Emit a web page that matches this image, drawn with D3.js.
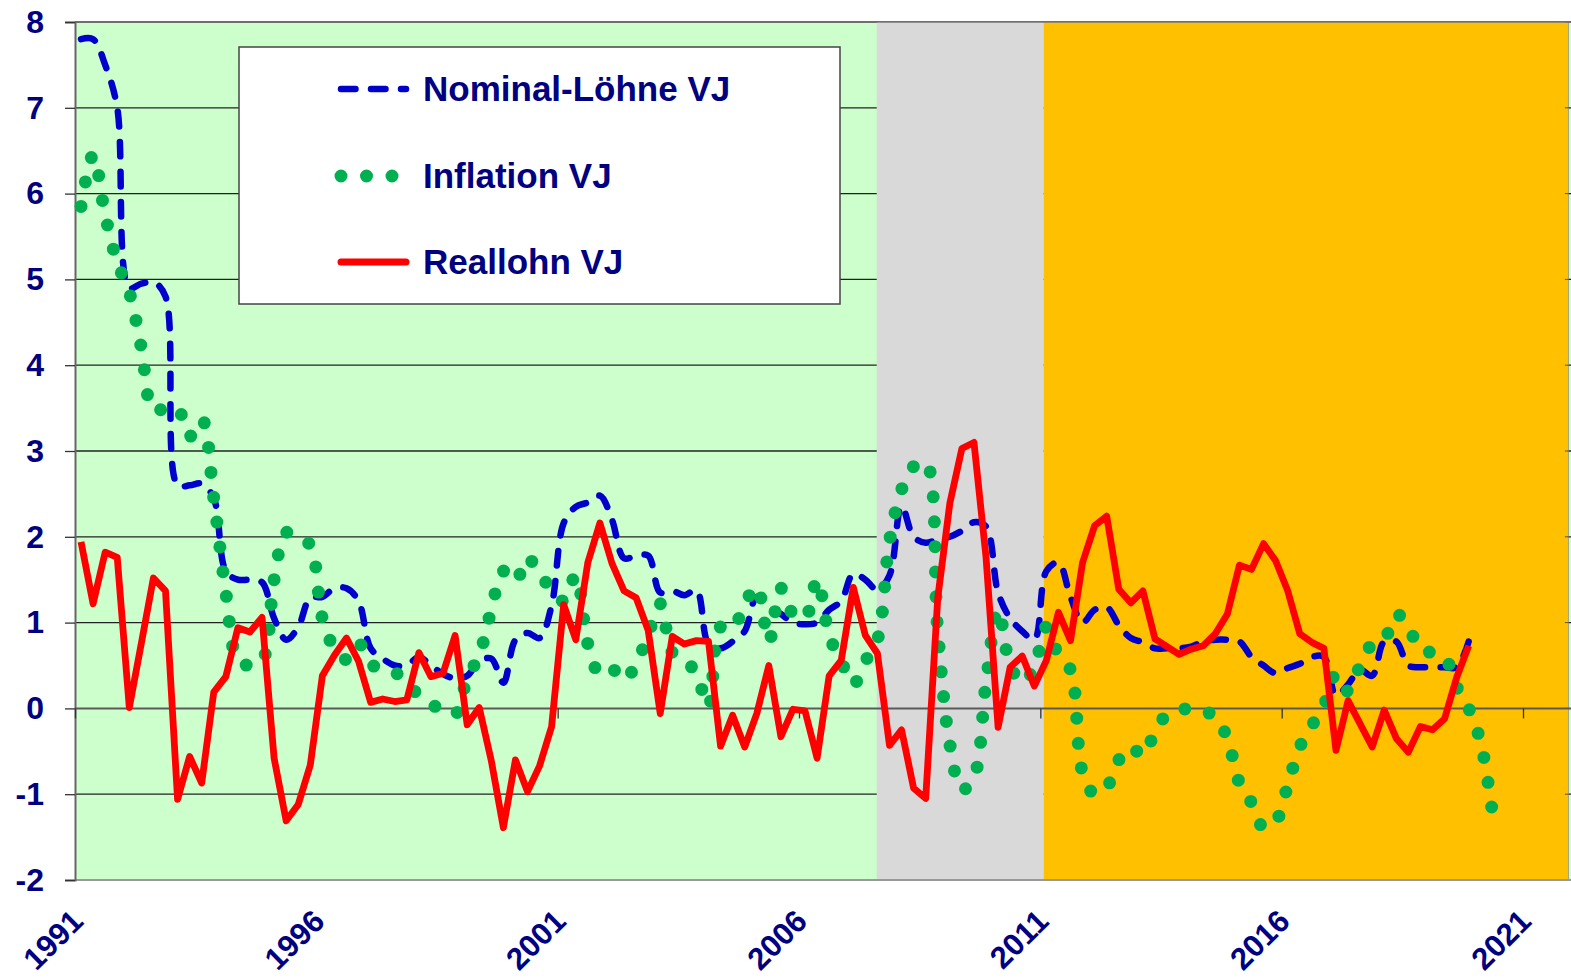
<!DOCTYPE html>
<html>
<head>
<meta charset="utf-8">
<script src="https://cdn.jsdelivr.net/npm/d3@7"></script>
<style>
  body { margin: 0; background: #fff; }
  text { font-family: "Liberation Sans", Arial, sans-serif; font-weight: bold; }
</style>
</head>
<body>
<div id="chart"></div>
<script>
// quarterly data, first quarter = 1991 Q1
var startYear = 1991;
var nominal = [7.8, 7.8, 7.5, 7.0, 4.9, 4.95, 4.97, 4.8, 2.6, 2.6,
  2.62, 2.45, 1.6, 1.5, 1.5, 1.47, 1.05, 0.8, 0.95, 1.29,
  1.3, 1.4, 1.4, 1.25, 0.7, 0.58, 0.5, 0.5, 0.6, 0.5,
  0.4, 0.35, 0.38, 0.55, 0.58, 0.3, 0.8, 0.88, 0.82, 1.2,
  2.16, 2.35, 2.4, 2.48, 2.2, 1.75, 1.78, 1.78, 1.35, 1.37,
  1.32, 1.38, 0.75, 0.7, 0.78, 0.9, 1.3, 1.18, 1.1, 1.0,
  0.98, 1.0, 1.15, 1.25, 1.57, 1.5, 1.38, 1.55, 2.36, 2.0,
  1.93, 1.97, 2.0, 2.07, 2.17, 2.12, 1.35, 1.05, 0.9, 0.8,
  1.6, 1.7, 1.3, 1.0, 1.15, 1.18, 0.97, 0.82, 0.77, 0.7,
  0.7, 0.7, 0.72, 0.78, 0.8, 0.8, 0.78, 0.6, 0.5, 0.41,
  0.47, 0.52, 0.6, 0.6, 0.15, 0.28, 0.45, 0.38, 0.78, 0.78,
  0.5, 0.48, 0.48, 0.48, 0.48, 0.78];
var inflation = [5.85, 6.45, 5.75, 5.2, 4.85, 4.2, 3.47, 3.5, 3.5, 3.17,
  3.37, 2.45, 1.35, 0.56, 0.5, 0.55, 1.5, 2.05, 2.0, 1.9,
  1.05, 0.7, 0.57, 0.76, 0.52, 0.45, 0.42, 0.3, 0.15, 0.05,
  -0.02, -0.07, 0.35, 0.62, 1.15, 1.6, 1.48, 1.76, 1.55, 1.4,
  1.25, 1.55, 0.75, 0.4, 0.46, 0.33, 0.52, 0.86, 1.22, 0.65,
  0.57, 0.4, 0.02, 0.95, 0.93, 1.22, 1.42, 0.78, 1.4, 1.1,
  1.05, 1.5, 0.85, 0.55, 0.28, 0.55, 0.8, 1.95, 2.55, 2.82,
  2.87, 0.9, -0.42, -0.95, -0.8, 0.3, 1.15, 0.5, 0.3, 0.48,
  0.95, 0.62, 0.45, -0.75, -1.0, -0.92, -0.6, -0.45, -0.55, -0.27,
  -0.07, -0.02, 0.0, -0.03, -0.1, -0.35, -0.87, -1.1, -1.39, -1.32,
  -0.9, -0.45, -0.2, 0.03, 0.4, 0.2, 0.5, 0.75, 0.8, 1.1,
  0.95, 0.68, 0.65, 0.6, 0.25, 0.0, -0.4, -1.25];
var reallohn = [1.94, 1.22, 1.82, 1.76, 0.01, 0.76, 1.52, 1.37, -1.06, -0.56,
  -0.87, 0.19, 0.37, 0.94, 0.89, 1.06, -0.58, -1.31, -1.12, -0.66,
  0.38, 0.62, 0.82, 0.55, 0.07, 0.11, 0.08, 0.10, 0.65, 0.37,
  0.41, 0.85, -0.19, 0.01, -0.61, -1.39, -0.6, -0.97, -0.67, -0.21,
  1.21, 0.8, 1.70, 2.16, 1.69, 1.37, 1.29, 0.91, -0.06, 0.84,
  0.75, 0.79, 0.78, -0.44, -0.08, -0.45, -0.06, 0.5, -0.33, -0.01,
  -0.03, -0.58, 0.38, 0.56, 1.41, 0.85, 0.64, -0.43, -0.25, -0.93,
  -1.05, 1.29, 2.39, 3.03, 3.10, 1.76, -0.22, 0.48, 0.61, 0.26,
  0.56, 1.12, 0.79, 1.70, 2.13, 2.24, 1.39, 1.23, 1.37, 0.81,
  0.72, 0.63, 0.69, 0.73, 0.87, 1.1, 1.67, 1.62, 1.92, 1.72,
  1.37, 0.87, 0.77, 0.70, -0.49, 0.09, -0.18, -0.45, -0.02, -0.35,
  -0.51, -0.21, -0.25, -0.12, 0.36, 0.73];
var yearTicks = [1991, 1996, 2001, 2006, 2011, 2016, 2021];
var yTicks = [-2, -1, 0, 1, 2, 3, 4, 5, 6, 7, 8];
// shaded periods (in years)
var crisisPeriod = [2007.61, 2011.07];
var recentPeriod = [2011.07, 2021.93];
var legendNames = ["Nominal-Löhne VJ", "Inflation VJ", "Reallohn VJ"];

var W = 1571, H = 980;
var pLeft = 75, pTop = 22, pBottom = 880;

var svg = d3.select("#chart").append("svg")
  .attr("width", W).attr("height", H);

var x = d3.scaleLinear().domain([1991, 2021]).range([pLeft, 1523]);
var y = d3.scaleLinear().domain([-2, 8]).range([pBottom, pTop]);

// quarter centre
var qx = function(i) { return x(startYear + (i + 0.5) / 4); };

// plot background
svg.append("rect")
  .attr("x", pLeft).attr("y", pTop)
  .attr("width", W - pLeft).attr("height", pBottom - pTop)
  .attr("fill", "#ccffcc");

// gridlines
svg.append("g").selectAll("line")
  .data(yTicks.filter(function(d) { return d != 0 && d != -2; }))
  .enter().append("line")
  .attr("x1", pLeft).attr("x2", W)
  .attr("y1", function(d) { return y(d); })
  .attr("y2", function(d) { return y(d); })
  .attr("stroke", "#222").attr("stroke-width", 1.3);

// periods
svg.append("rect")
  .attr("x", x(crisisPeriod[0])).attr("y", pTop)
  .attr("width", x(crisisPeriod[1]) - x(crisisPeriod[0]))
  .attr("height", pBottom - pTop)
  .attr("fill", "#d9d9d9");
svg.append("rect")
  .attr("x", x(recentPeriod[0])).attr("y", pTop)
  .attr("width", x(recentPeriod[1]) - x(recentPeriod[0]))
  .attr("height", pBottom - pTop)
  .attr("fill", "#ffc000");

// right border of the shaded area + small ticks
svg.append("line")
  .attr("x1", x(recentPeriod[1]) + 0.5).attr("x2", x(recentPeriod[1]) + 0.5)
  .attr("y1", pTop).attr("y2", pBottom)
  .attr("stroke", "#9a9a7a").attr("stroke-width", 1);
svg.append("g").selectAll("line")
  .data(yTicks)
  .enter().append("line")
  .attr("x1", x(recentPeriod[1]) - 3).attr("x2", x(recentPeriod[1]) + 1)
  .attr("y1", function(d) { return y(d); })
  .attr("y2", function(d) { return y(d); })
  .attr("stroke", "#555").attr("stroke-width", 1);

// frame top and bottom
svg.append("line").attr("x1", pLeft).attr("x2", W).attr("y1", pTop).attr("y2", pTop)
  .attr("stroke", "#777").attr("stroke-width", 1.5);
svg.append("line").attr("x1", pLeft).attr("x2", W).attr("y1", pBottom).attr("y2", pBottom)
  .attr("stroke", "#999").attr("stroke-width", 2);

// y axis
var yAxis = svg.append("g")
  .attr("transform", "translate(" + pLeft + ",0)")
  .call(d3.axisLeft(y).tickValues(yTicks).tickSize(10).tickPadding(21)
    .tickFormat(function(d) { return String(d); }));
yAxis.select(".domain").attr("stroke", "#666").attr("stroke-width", 2);
yAxis.selectAll(".tick line").attr("stroke", "#333").attr("stroke-width", 1.3);
yAxis.selectAll(".tick text")
  .attr("fill", "#000080")
  .style("font-size", "32px")
  .style("font-family", "'Liberation Sans', Arial, sans-serif")
  .style("font-weight", "bold");

// x axis on the zero line
var xAxis = svg.append("g")
  .attr("transform", "translate(0," + y(0) + ")")
  .call(d3.axisBottom(x).tickValues(yearTicks).tickSize(10).tickFormat(""));
xAxis.select(".domain").attr("d", "M" + pLeft + ",0H" + W)
  .attr("stroke", "#5a5a5a").attr("stroke-width", 2);
xAxis.selectAll(".tick line").attr("stroke", "#333").attr("stroke-width", 1.3);

// rotated year labels
svg.append("g").selectAll("text")
  .data(yearTicks)
  .enter().append("text")
  .attr("transform", function(d) {
    return "translate(" + (x(d + 0.125) + 4) + ",923) rotate(-45)";
  })
  .attr("text-anchor", "end")
  .attr("fill", "#000080")
  .style("font-size", "31px")
  .text(function(d) { return d; });

// series
var lineSmooth = d3.line()
  .x(function(d, i) { return qx(i); })
  .y(function(d) { return y(d); })
  .curve(d3.curveCatmullRom);
var lineStraight = d3.line()
  .x(function(d, i) { return qx(i); })
  .y(function(d) { return y(d); });

svg.append("path")
  .attr("d", lineSmooth(nominal))
  .attr("fill", "none")
  .attr("stroke", "#0000cc")
  .attr("stroke-width", 6.5)
  .attr("stroke-linecap", "round")
  .attr("stroke-dasharray", "14.5,15.5");

svg.append("path")
  .attr("d", lineSmooth(inflation))
  .attr("fill", "none")
  .attr("stroke", "#00b050")
  .attr("stroke-width", 13)
  .attr("stroke-linecap", "round")
  .attr("stroke-dasharray", "0,25");

svg.append("path")
  .attr("d", lineStraight(reallohn))
  .attr("fill", "none")
  .attr("stroke", "#ff0000")
  .attr("stroke-width", 6.8)
  .attr("stroke-linejoin", "round");

// legend
var legend = svg.append("g");
legend.append("rect")
  .attr("x", 239).attr("y", 47)
  .attr("width", 601).attr("height", 257)
  .attr("fill", "#fff")
  .attr("stroke", "#444").attr("stroke-width", 1.5);

var legY = [89, 176, 262];
legend.append("line")
  .attr("x1", 341).attr("x2", 406).attr("y1", legY[0]).attr("y2", legY[0])
  .attr("stroke", "#0000cc").attr("stroke-width", 6.5)
  .attr("stroke-linecap", "round").attr("stroke-dasharray", "14.5,15.5");
legend.append("line")
  .attr("x1", 341).attr("x2", 395).attr("y1", legY[1]).attr("y2", legY[1])
  .attr("stroke", "#00b050").attr("stroke-width", 13)
  .attr("stroke-linecap", "round").attr("stroke-dasharray", "0,25.5");
legend.append("line")
  .attr("x1", 341).attr("x2", 406).attr("y1", legY[2]).attr("y2", legY[2])
  .attr("stroke", "#ff0000").attr("stroke-width", 7)
  .attr("stroke-linecap", "round");

legend.selectAll("text.leg")
  .data(legendNames)
  .enter().append("text")
  .attr("class", "leg")
  .attr("x", 423)
  .attr("y", function(d, i) { return legY[i] + 12; })
  .attr("fill", "#000080")
  .style("font-size", "35px")
  .text(function(d) { return d; });
</script>
</body>
</html>
